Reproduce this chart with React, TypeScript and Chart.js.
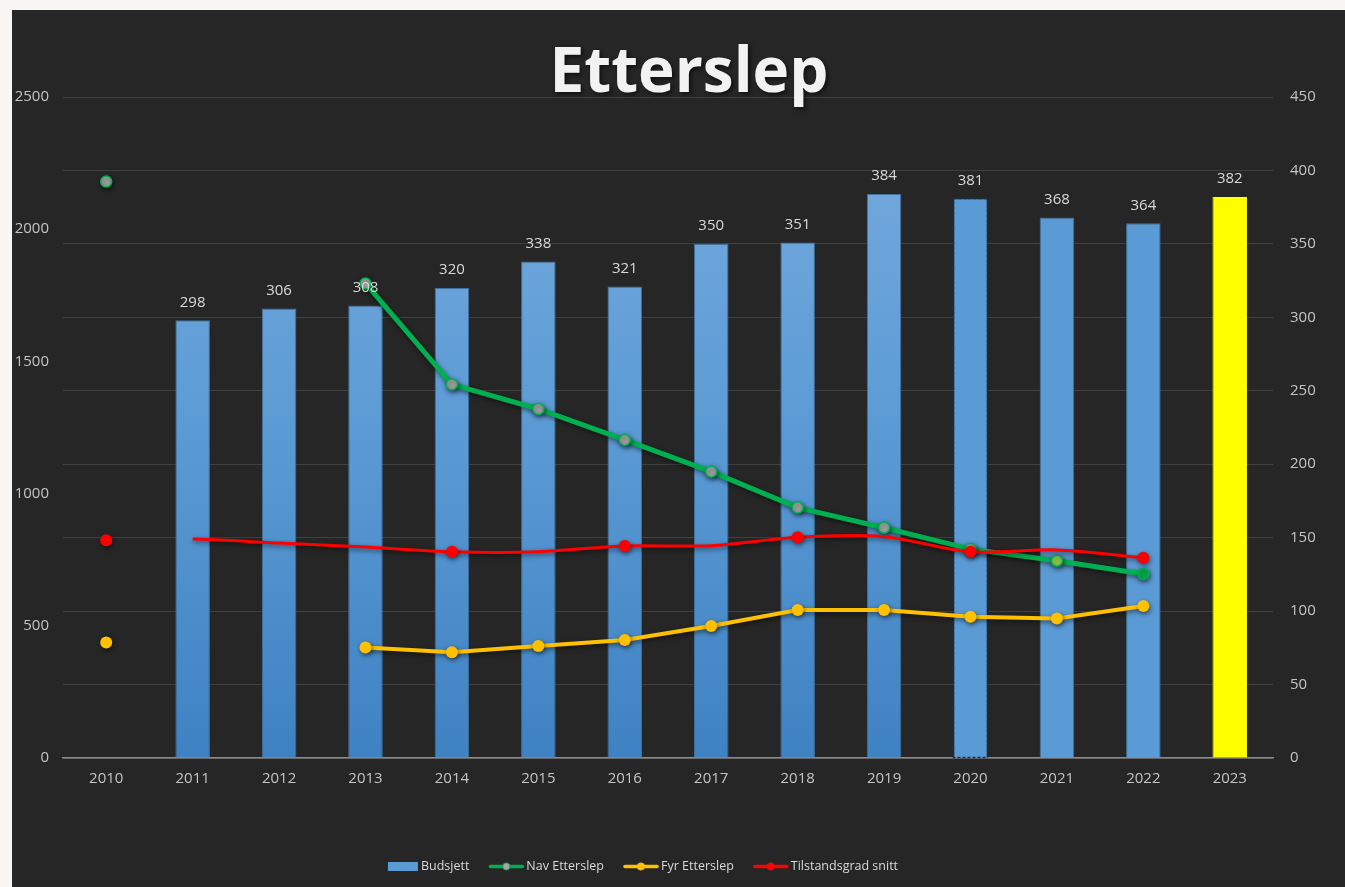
import React, { useEffect, useRef } from 'react';
import { Chart, registerables } from 'chart.js';

Chart.register(...registerables);

const TITLE = 'Etterslep';
const years = ['2010', '2011', '2012', '2013', '2014', '2015', '2016', '2017', '2018', '2019', '2020', '2021', '2022', '2023'];
const budsjett = [null, 298, 306, 308, 320, 338, 321, 350, 351, 384, 381, 368, 364, 382];
const navEtterslep = [2180, null, null, 1795, 1413, 1320, 1203, 1083, 947, 871, 790, 746, 696, null];
const fyrEtterslep = [437, null, null, 418, 400, 424, 446, 499, 560, 560, 534, 528, 575, null];
const tilstandsgrad = [824, 828, 813, 798, 780, 780, 802, 803, 835, 837, 780, 787, 757, null];
const leftAxisTicks = [0, 500, 1000, 1500, 2000, 2500];
const rightAxisTicks = [0, 50, 100, 150, 200, 250, 300, 350, 400, 450];

const FONT = "'Open Sans', sans-serif";

const lineShadowPlugin = {
  id: 'lineShadow',
  beforeDatasetDraw(chart: any, args: any) {
    if (args.meta.type !== 'line') return;
    const ctx = chart.ctx;
    ctx.save();
    ctx.shadowColor = 'rgba(0,0,0,0.55)';
    ctx.shadowBlur = 5;
    ctx.shadowOffsetX = 1;
    ctx.shadowOffsetY = 2;
  },
  afterDatasetDraw(chart: any, args: any) {
    if (args.meta.type !== 'line') return;
    chart.ctx.restore();
  },
};

const barExtrasPlugin = {
  id: 'barExtras',
  afterDatasetDraw(chart: any, args: any) {
    if (args.meta.type !== 'bar') return;
    const ctx = chart.ctx;
    const el = args.meta.data[10];
    if (!el) return;
    const p = el.getProps(['x', 'y', 'base', 'width'], true);
    const left = Math.round(p.x - p.width / 2) + 0.5;
    const right = Math.round(p.x + p.width / 2) - 0.5;
    const top = Math.round(p.y) + 0.5;
    const bottom = Math.round(p.base) - 0.5;
    ctx.save();
    ctx.setLineDash([3, 2]);
    ctx.strokeStyle = '#16304f';
    ctx.lineWidth = 1.5;
    ctx.strokeRect(left, top, right - left, bottom - top);
    ctx.restore();
  },
  afterDatasetsDraw(chart: any) {
    const ctx = chart.ctx;
    chart.data.datasets.forEach((ds: any, di: number) => {
      if (ds.type !== 'bar') return;
      const meta = chart.getDatasetMeta(di);
      ctx.save();
      ctx.font = `15px ${FONT}`;
      ctx.fillStyle = '#d9d9d9';
      ctx.textAlign = 'center';
      ctx.textBaseline = 'middle';
      meta.data.forEach((el: any, i: number) => {
        const v = ds.data[i];
        if (v == null) return;
        const p = el.getProps(['x', 'y'], true);
        ctx.fillText(String(v), p.x, p.y - 18);
      });
      ctx.restore();
    });
  },
};

const overlayPlugin = {
  id: 'overlay',
  afterDraw(chart: any) {
    const ctx = chart.ctx;
    // title
    ctx.save();
    ctx.font = `bold 62px ${FONT}`;
    ctx.textAlign = 'center';
    ctx.textBaseline = 'alphabetic';
    ctx.shadowColor = 'rgba(0,0,0,0.6)';
    ctx.shadowBlur = 4;
    ctx.shadowOffsetX = 2;
    ctx.shadowOffsetY = 2;
    ctx.fillStyle = '#f2f2f2';
    ctx.fillText(TITLE, 677, 82);
    ctx.restore();

    // legend
    ctx.save();
    ctx.font = `12.5px ${FONT}`;
    ctx.textBaseline = 'middle';
    ctx.textAlign = 'left';
    const items = chart.data.datasets.map((ds: any) => {
      const isLine = ds.type === 'line';
      const pbg = ds.pointBackgroundColor;
      return {
        label: ds.label,
        isLine,
        color: isLine ? ds.borderColor : '#5b9bd5',
        marker: Array.isArray(pbg) ? pbg[0] : pbg,
        markerBorder: ds.pointBorderColor,
        symW: isLine ? 34 : 30,
        textW: ctx.measureText(ds.label).width,
      };
    });
    const gapSym = 3;
    const gapItem = 20;
    let total = 0;
    items.forEach((it: any, i: number) => {
      total += it.symW + gapSym + it.textW + (i < items.length - 1 ? gapItem : 0);
    });
    let x = 631 - total / 2;
    const cy = 856.5;
    items.forEach((it: any) => {
      if (it.isLine) {
        ctx.strokeStyle = it.color;
        ctx.lineWidth = 3.5;
        ctx.lineCap = 'round';
        ctx.beginPath();
        ctx.moveTo(x + 1, cy);
        ctx.lineTo(x + it.symW - 1, cy);
        ctx.stroke();
        ctx.beginPath();
        ctx.arc(x + it.symW / 2, cy, 3.6, 0, Math.PI * 2);
        ctx.fillStyle = it.marker;
        ctx.fill();
        ctx.lineWidth = 1;
        ctx.strokeStyle = it.markerBorder;
        ctx.stroke();
      } else {
        ctx.fillStyle = it.color;
        ctx.fillRect(x, cy - 4.5, it.symW, 9);
      }
      x += it.symW + gapSym;
      ctx.fillStyle = '#d9d9d9';
      ctx.fillText(it.label, x, cy);
      x += it.textW + gapItem;
    });
    ctx.restore();
  },
};

export default function App() {
  const canvasRef = useRef<HTMLCanvasElement | null>(null);

  useEffect(() => {
    if (!canvasRef.current) return;
    Chart.defaults.font.family = FONT;

    const chart = new Chart(canvasRef.current, {
      type: 'bar',
      data: {
        labels: years,
        datasets: [
          {
            type: 'bar',
            label: 'Budsjett',
            data: budsjett,
            yAxisID: 'y2',
            order: 10,
            barPercentage: 0.4,
            categoryPercentage: 1,
            backgroundColor: (c: any) => {
              const i = c.dataIndex;
              if (i === 13) return '#ffff00';
              if (i >= 10) return '#5b9bd5';
              const area = c.chart.chartArea;
              if (!area) return '#5b9bd5';
              const g = c.chart.ctx.createLinearGradient(0, area.top, 0, area.bottom);
              g.addColorStop(0, '#78acdf');
              g.addColorStop(0.5, '#5b9bd5');
              g.addColorStop(1, '#3f82c3');
              return g;
            },
            borderColor: (c: any) => {
              const i = c.dataIndex;
              if (i === 13) return '#ffff00';
              if (i === 10) return 'rgba(0,0,0,0)';
              return '#41719c';
            },
            borderWidth: 1,
          } as any,
          {
            type: 'line',
            label: 'Nav Etterslep',
            data: navEtterslep,
            yAxisID: 'y',
            order: 3,
            borderColor: '#00b050',
            borderWidth: 5,
            tension: 0,
            spanGaps: false,
            pointRadius: 5.5,
            pointBorderWidth: 1.5,
            pointBorderColor: '#00b050',
            pointBackgroundColor: ['#a5a5a5', '#a5a5a5', '#a5a5a5', '#a5a5a5', '#a5a5a5', '#a5a5a5', '#a5a5a5', '#a5a5a5', '#a5a5a5', '#a5a5a5', '#a5a5a5', '#92d050', '#00b050', '#a5a5a5'],
          } as any,
          {
            type: 'line',
            label: 'Fyr Etterslep',
            data: fyrEtterslep,
            yAxisID: 'y',
            order: 2,
            borderColor: '#ffc000',
            borderWidth: 4,
            tension: 0,
            spanGaps: false,
            pointRadius: 6,
            pointBorderWidth: 0,
            pointBorderColor: '#ffc000',
            pointBackgroundColor: '#ffc000',
          } as any,
          {
            type: 'line',
            label: 'Tilstandsgrad snitt',
            data: tilstandsgrad,
            yAxisID: 'y',
            order: 1,
            borderColor: '#ff0000',
            borderWidth: 3,
            tension: 0.3,
            spanGaps: false,
            pointRadius: [6, 0, 0, 0, 6, 0, 6, 0, 6, 0, 6, 0, 6, 0],
            pointBorderWidth: 0,
            pointBorderColor: '#ff0000',
            pointBackgroundColor: '#ff0000',
            segment: {
              borderColor: (s: any) => (s.p0DataIndex === 0 ? 'rgba(0,0,0,0)' : undefined),
            },
          } as any,
        ],
      },
      options: {
        responsive: false,
        animation: false,
        events: [],
        layout: { padding: { top: 87, left: 0, right: 0, bottom: 0 } },
        plugins: {
          legend: { display: false },
          title: { display: false },
          tooltip: { enabled: false },
        },
        scales: {
          x: {
            offset: true,
            grid: { display: false, drawTicks: false },
            border: { display: true, color: '#8c8c8c', width: 1.5 },
            ticks: { color: '#c4c4c4', font: { size: 15, family: FONT }, padding: 12, maxRotation: 0 },
            afterFit: (axis: any) => { axis.height = 129; },
          },
          y: {
            position: 'left',
            min: leftAxisTicks[0],
            max: leftAxisTicks[leftAxisTicks.length - 1],
            afterBuildTicks: (axis: any) => { axis.ticks = leftAxisTicks.map((v) => ({ value: v })); },
            grid: { display: false, drawTicks: false },
            border: { display: false },
            ticks: { color: '#c4c4c4', font: { size: 15, family: FONT }, padding: 14, callback: (v: any) => String(v) },
            afterFit: (axis: any) => { axis.width = 51; },
          },
          y2: {
            position: 'right',
            min: rightAxisTicks[0],
            max: rightAxisTicks[rightAxisTicks.length - 1],
            afterBuildTicks: (axis: any) => { axis.ticks = rightAxisTicks.map((v) => ({ value: v })); },
            grid: { display: true, color: '#404040', lineWidth: 1, drawTicks: false },
            border: { display: false },
            ticks: { color: '#c4c4c4', font: { size: 15, family: FONT }, padding: 17, callback: (v: any) => String(v) },
            afterFit: (axis: any) => { axis.width = 72; },
          },
        },
      } as any,
      plugins: [lineShadowPlugin, barExtrasPlugin, overlayPlugin],
    });

    return () => chart.destroy();
  }, []);

  return (
    <div style={{ position: 'fixed', left: 0, top: 0, width: 1345, height: 887, background: '#f9f6f3', overflow: 'hidden' }}>
      <div style={{ position: 'absolute', left: 12, top: 10, width: 1333, height: 877, background: '#262626' }}>
        <canvas ref={canvasRef} width={1333} height={877} style={{ display: 'block' }} />
      </div>
    </div>
  );
}
